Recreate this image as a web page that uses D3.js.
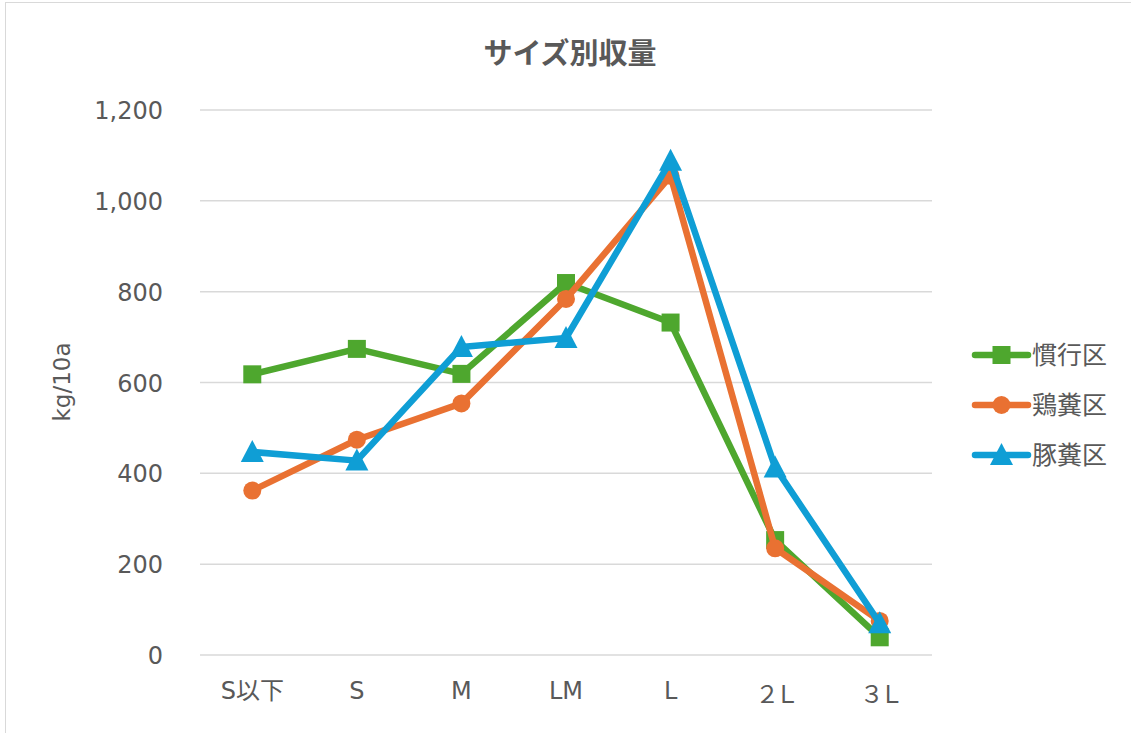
<!DOCTYPE html>
<html><head><meta charset="utf-8">
<script src="https://cdn.jsdelivr.net/npm/d3@7"></script>
<style>
body{margin:0;background:#fff;}
svg{display:block;}
</style></head>
<body>
<svg id="c" width="1131" height="733"></svg>
<script>
const categories = ["S以下","S","M","LM","L","２Ｌ","３Ｌ"];
const seriesNames = ["慣行区","鶏糞区","豚糞区"];
const kanko = [618, 674, 619, 819, 732, 253, 39];
const keifun = [362, 474, 554, 784, 1055, 235, 75];
const tonpun = [447, 428, 678, 698, 1088, 413, 70];
const yTicks = [0, 200, 400, 600, 800, 1000, 1200];
const colors = ["#4EA72E", "#E97132", "#0F9ED5"];
const markers = ["square", "circle", "triangle"];
const series = [kanko, keifun, tonpun];

const svg = d3.select("#c");
svg.append("rect").attr("x",5.5).attr("y",2.5).attr("width",1140).attr("height",740)
  .attr("fill","#fff").attr("stroke","#d9d9d9").attr("stroke-width",1);

const x = d3.scaleBand().domain(categories).range([200, 932]);
const y = d3.scaleLinear().domain([0, 1200]).range([655, 110]);
const textColor = "#595959";

// gridlines
svg.append("g").selectAll("line").data(yTicks).join("line")
  .attr("x1",200).attr("x2",932)
  .attr("y1",d=>y(d)).attr("y2",d=>y(d))
  .attr("stroke","#d9d9d9").attr("stroke-width",1.5);

// y axis labels
const yAxis = d3.axisLeft(y).tickValues(yTicks).tickFormat(d3.format(",")).tickSize(0).tickPadding(0);
const gy = svg.append("g").attr("transform","translate(163,0)").call(yAxis);
gy.select(".domain").remove();
gy.selectAll("text").attr("font-family","DejaVu Sans, Verdana, sans-serif").attr("font-size",24).attr("fill",textColor).attr("dy","0.36em");

// x axis labels
const xAxis = d3.axisBottom(x).tickSize(0).tickPadding(0);
const gx = svg.append("g").attr("transform","translate(0,680)").call(xAxis);
gx.select(".domain").remove();
gx.selectAll("text").attr("font-family","DejaVu Sans, 'Noto Sans CJK JP', sans-serif").attr("font-size",24).attr("fill",textColor)
  .attr("letter-spacing", d => (d.startsWith("２")||d.startsWith("３")) ? "-4px" : "0px")
  .attr("dy", d => (d.startsWith("２")||d.startsWith("３")) ? "0.95em" : "0.78em");

// y title
svg.append("text").attr("transform","translate(70,382) rotate(-90)")
  .attr("text-anchor","middle").attr("font-family","DejaVu Sans, sans-serif").attr("font-size",23).attr("fill",textColor).text("kg/10a");

// title
svg.append("text").attr("x",570).attr("y",64).attr("text-anchor","middle")
  .attr("font-family","'Noto Sans CJK JP', sans-serif").attr("font-weight","bold").attr("font-size",29)
  .attr("fill",textColor).text("サイズ別収量");

const line = d3.line().x((d,i)=>x(categories[i])+x.bandwidth()/2).y(d=>y(d));

function drawMarker(g, type, cx, cy, color){
  if(type==="square"){
    g.append("rect").attr("x",cx-9).attr("y",cy-9).attr("width",18).attr("height",18).attr("fill",color);
  } else if(type==="circle"){
    g.append("circle").attr("cx",cx).attr("cy",cy).attr("r",9).attr("fill",color);
  } else {
    g.append("path").attr("d",`M${cx},${cy-12}L${cx+11.5},${cy+10}L${cx-11.5},${cy+10}Z`).attr("fill",color);
  }
}

series.forEach((vals, si) => {
  const g = svg.append("g");
  g.append("path").attr("d", line(vals)).attr("fill","none").attr("stroke",colors[si])
    .attr("stroke-width",6.5).attr("stroke-linejoin","round").attr("stroke-linecap","round");
  vals.forEach((v,i)=>drawMarker(g, markers[si], x(categories[i])+x.bandwidth()/2, y(v), colors[si]));
});

// legend
const legY = [355, 405, 455];
seriesNames.forEach((n, si) => {
  const g = svg.append("g");
  g.append("line").attr("x1",975).attr("x2",1028).attr("y1",legY[si]).attr("y2",legY[si])
    .attr("stroke",colors[si]).attr("stroke-width",6.5).attr("stroke-linecap","round");
  drawMarker(g, markers[si], 1001.5, legY[si], colors[si]);
  g.append("text").attr("x",1032).attr("y",legY[si]).attr("dy","0.36em")
    .attr("font-family","'Noto Sans CJK JP', sans-serif").attr("font-size",25).attr("fill",textColor).text(n);
});
</script>
</body></html>
